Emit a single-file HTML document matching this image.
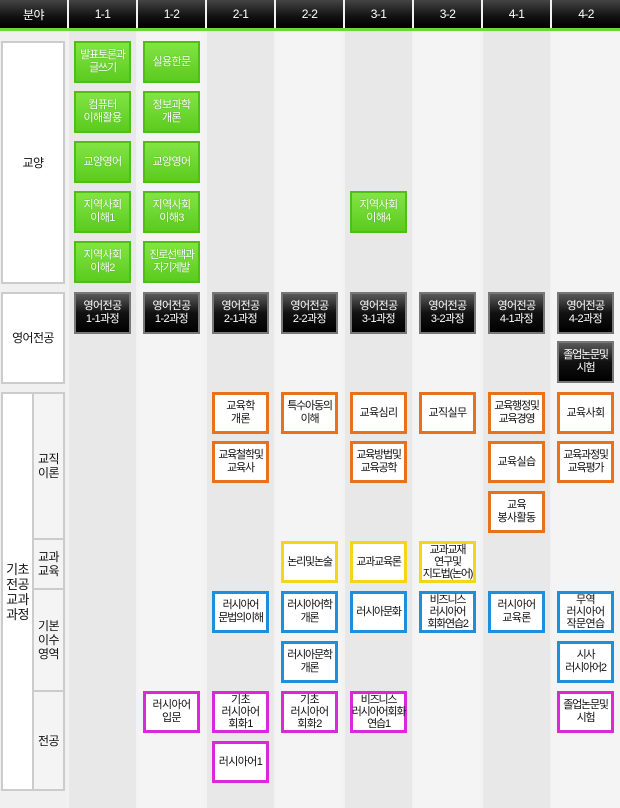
<!DOCTYPE html>
<html><head><meta charset="utf-8"><style>
*{margin:0;padding:0;box-sizing:border-box}
body{width:620px;height:808px;position:relative;background:#f2f2f2;font-family:"Liberation Sans","Noto Sans CJK KR","NanumGothic",sans-serif;font-size:11px;letter-spacing:-0.6px;overflow:hidden}
.a{position:absolute}
.h{position:absolute;top:0;height:28px;background:linear-gradient(#444,#111 60%,#000);color:#fff;display:flex;align-items:center;justify-content:center;font-size:12px}
.col{position:absolute;top:31px;height:777px}
.lab{position:absolute;background:#fff;border:2px solid #ccc;display:flex;align-items:center;justify-content:center;text-align:center;color:#111;line-height:14px;font-size:12px}
.b{position:absolute;width:57px;height:42px;display:flex;align-items:center;justify-content:center;text-align:center;line-height:13px;color:#111;white-space:nowrap;overflow:visible}
.t{letter-spacing:-1.2px}
.g{background:linear-gradient(#82e444,#5ccb1f);border:2px solid #4fbf16;color:#fff;text-shadow:0 0 1px #3a9a0a}
.d{background:linear-gradient(#5a5a5a,#111 50%,#000);border:2px solid #777;color:#fff}
.o{background:#fff;border:3px solid #e8721c}
.y{background:#fff;border:3px solid #f3d61a}
.u{background:#fff;border:3px solid #1e8fdc}
.p{background:#fff;border:3px solid #d92ad9}
</style></head><body>
<div class="a" style="left:0;top:28px;width:620px;height:3px;background:#6fd63a"></div>
<div class="h" style="left:0;width:67px">분야</div>
<div class="h" style="left:69px;width:67px">1-1</div>
<div class="h" style="left:138px;width:67px">1-2</div>
<div class="h" style="left:207px;width:67px">2-1</div>
<div class="h" style="left:276px;width:67px">2-2</div>
<div class="h" style="left:345px;width:67px">3-1</div>
<div class="h" style="left:414px;width:67px">3-2</div>
<div class="h" style="left:483px;width:67px">4-1</div>
<div class="h" style="left:552px;width:68px">4-2</div>

<div class="col" style="left:0;width:67px;background:#f0f0f0"></div>
<div class="col" style="left:69px;width:67px;background:#e8e8e8"></div>
<div class="col" style="left:138px;width:66px;background:#f4f4f4"></div>
<div class="col" style="left:207px;width:67px;background:#e8e8e8"></div>
<div class="col" style="left:276px;width:66px;background:#f4f4f4"></div>
<div class="col" style="left:345px;width:67px;background:#e8e8e8"></div>
<div class="col" style="left:414px;width:66px;background:#f4f4f4"></div>
<div class="col" style="left:483px;width:67px;background:#e8e8e8"></div>
<div class="col" style="left:552px;width:68px;background:#f4f4f4"></div>

<div class="lab" style="left:1px;top:41px;width:64px;height:243px">교양</div>
<div class="lab" style="left:1px;top:292px;width:64px;height:92px">영어전공</div>
<div class="lab" style="left:1px;top:392px;width:33px;height:399px;font-size:13px;line-height:15px">기초<br>전공<br>교과<br>과정</div>
<div class="lab" style="left:32px;top:392px;width:33px;height:148px;background:#f4f4f4">교직<br>이론</div>
<div class="lab" style="left:32px;top:538px;width:33px;height:52px;background:#f4f4f4">교과<br>교육</div>
<div class="lab" style="left:32px;top:588px;width:33px;height:104px;background:#f4f4f4">기본<br>이수<br>영역</div>
<div class="lab" style="left:32px;top:690px;width:33px;height:101px;background:#f4f4f4">전공</div>

<div class="b g t" style="left:74px;top:41px">발표토론과<br>글쓰기</div>
<div class="b g" style="left:143px;top:41px">실용한문</div>
<div class="b g" style="left:74px;top:91px">컴퓨터<br>이해활용</div>
<div class="b g" style="left:143px;top:91px">정보과학<br>개론</div>
<div class="b g" style="left:74px;top:141px">교양영어</div>
<div class="b g" style="left:143px;top:141px">교양영어</div>
<div class="b g" style="left:74px;top:191px">지역사회<br>이해1</div>
<div class="b g" style="left:143px;top:191px">지역사회<br>이해3</div>
<div class="b g" style="left:350px;top:191px">지역사회<br>이해4</div>
<div class="b g" style="left:74px;top:241px">지역사회<br>이해2</div>
<div class="b g t" style="left:143px;top:241px">진로선택과<br>자기계발</div>

<div class="b d" style="left:74px;top:292px">영어전공<br>1-1과정</div>
<div class="b d" style="left:143px;top:292px">영어전공<br>1-2과정</div>
<div class="b d" style="left:212px;top:292px">영어전공<br>2-1과정</div>
<div class="b d" style="left:281px;top:292px">영어전공<br>2-2과정</div>
<div class="b d" style="left:350px;top:292px">영어전공<br>3-1과정</div>
<div class="b d" style="left:419px;top:292px">영어전공<br>3-2과정</div>
<div class="b d" style="left:488px;top:292px">영어전공<br>4-1과정</div>
<div class="b d" style="left:557px;top:292px">영어전공<br>4-2과정</div>
<div class="b d t" style="left:557px;top:341px">졸업논문및<br>시험</div>

<div class="b o" style="left:212px;top:392px">교육학<br>개론</div>
<div class="b o t" style="left:281px;top:392px">특수아동의<br>이해</div>
<div class="b o" style="left:350px;top:392px">교육심리</div>
<div class="b o" style="left:419px;top:392px">교직실무</div>
<div class="b o t" style="left:488px;top:392px">교육행정및<br>교육경영</div>
<div class="b o" style="left:557px;top:392px">교육사회</div>
<div class="b o t" style="left:212px;top:441px">교육철학및<br>교육사</div>
<div class="b o t" style="left:350px;top:441px">교육방법및<br>교육공학</div>
<div class="b o" style="left:488px;top:441px">교육실습</div>
<div class="b o t" style="left:557px;top:441px">교육과정및<br>교육평가</div>
<div class="b o" style="left:488px;top:491px">교육<br>봉사활동</div>

<div class="b y t" style="left:281px;top:541px">논리및논술</div>
<div class="b y t" style="left:350px;top:541px">교과교육론</div>
<div class="b y t" style="left:419px;top:541px;line-height:12px">교과교재<br>연구및<br>지도법(논어)</div>

<div class="b u t" style="left:212px;top:591px">러시아어<br>문법의이해</div>
<div class="b u t" style="left:281px;top:591px">러시아어학<br>개론</div>
<div class="b u t" style="left:350px;top:591px">러시아문화</div>
<div class="b u t" style="left:419px;top:591px;line-height:12px">비즈니스<br>러시아어<br>회화연습2</div>
<div class="b u" style="left:488px;top:591px">러시아어<br>교육론</div>
<div class="b u" style="left:557px;top:591px;line-height:12px">무역<br>러시아어<br>작문연습</div>
<div class="b u t" style="left:281px;top:641px">러시아문학<br>개론</div>
<div class="b u t" style="left:557px;top:641px">시사<br>러시아어2</div>

<div class="b p" style="left:143px;top:691px">러시아어<br>입문</div>
<div class="b p" style="left:212px;top:691px;line-height:12px">기초<br>러시아어<br>회화1</div>
<div class="b p" style="left:281px;top:691px;line-height:12px">기초<br>러시아어<br>회화2</div>
<div class="b p t" style="left:350px;top:691px;line-height:12px">비즈니스<br>러시아어회화<br>연습1</div>
<div class="b p t" style="left:557px;top:691px">졸업논문및<br>시험</div>
<div class="b p" style="left:212px;top:741px">러시아어1</div>
</body></html>
